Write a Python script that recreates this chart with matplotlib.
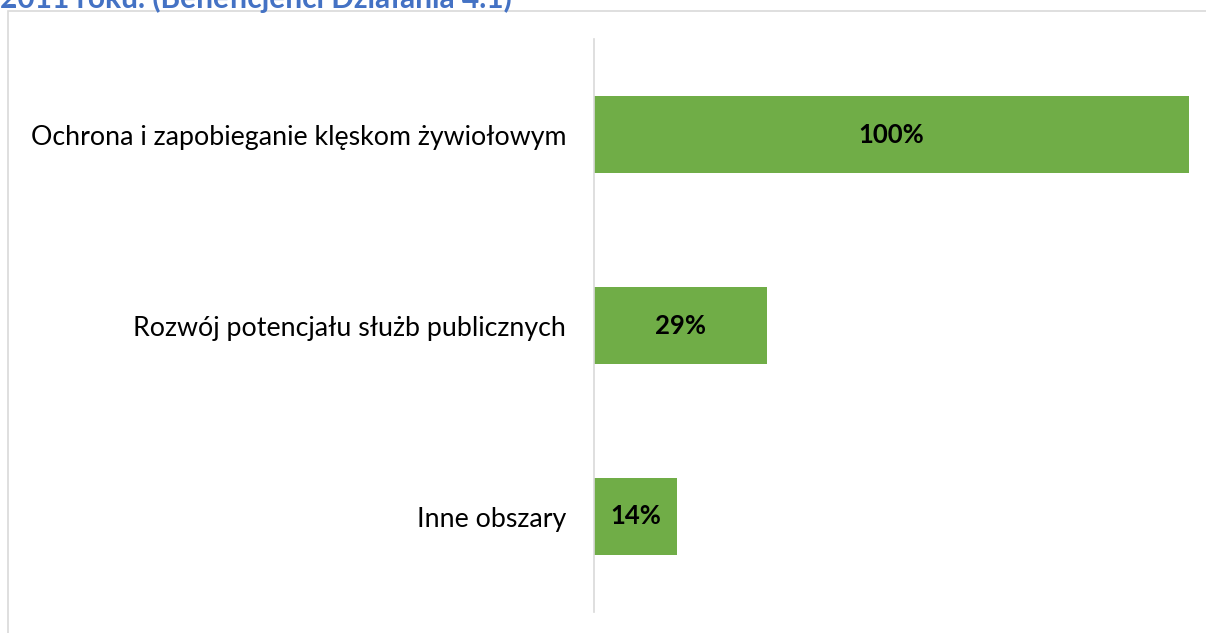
import matplotlib
matplotlib.use("Agg")
import matplotlib.pyplot as plt
from matplotlib.patches import Rectangle

categories = ["Ochrona i zapobieganie klęskom żywiołowym",
              "Rozwój potencjału służb publicznych",
              "Inne obszary"]
values = [100, 29, 14]
value_labels = ["100%", "29%", "14%"]
title = "2011 roku. (Beneficjenci Działania 4.1)"

plt.rcParams["font.family"] = ["Lato", "DejaVu Sans"]

W, H = 1206, 633
fig = plt.figure(figsize=(W / 100, H / 100), dpi=100)

# chart frame
fig.patches.append(Rectangle((8 / W, -0.05), 1.05, 1 - 11 / H + 0.05,
                             transform=fig.transFigure, fill=False,
                             edgecolor="#d9d9d9", linewidth=1.2))

# heading line above the frame (partially out of view)
fig.text(0.0, 1 - 8 / H, title, color="#4472C4", fontsize=21.5,
         fontweight="bold", ha="left", va="baseline")

ax = fig.add_axes([594 / W, 21 / H, (1189 - 594) / W, (612 - 39) / H])
y = list(range(len(categories)))
bars = ax.barh(y, values, height=0.4, color="#70AD47")
ax.set_xlim(0, 100)
ax.set_ylim(len(categories) - 0.5, -0.5)

for i, (v, lab) in enumerate(zip(values, value_labels)):
    ax.text(v / 2, i, lab, ha="center", va="center", fontsize=18.5,
            fontweight="bold", color="black")

ax.set_yticks(y)
ax.set_yticklabels(categories, fontsize=19.3, color="black")
ax.tick_params(axis="y", length=0, pad=20)
ax.set_xticks([])
for s in ["top", "right", "bottom"]:
    ax.spines[s].set_visible(False)
ax.spines["left"].set_color("#d9d9d9")
ax.spines["left"].set_linewidth(1.2)
ax.set_facecolor("none")

fig.savefig("out.png", dpi=100)
